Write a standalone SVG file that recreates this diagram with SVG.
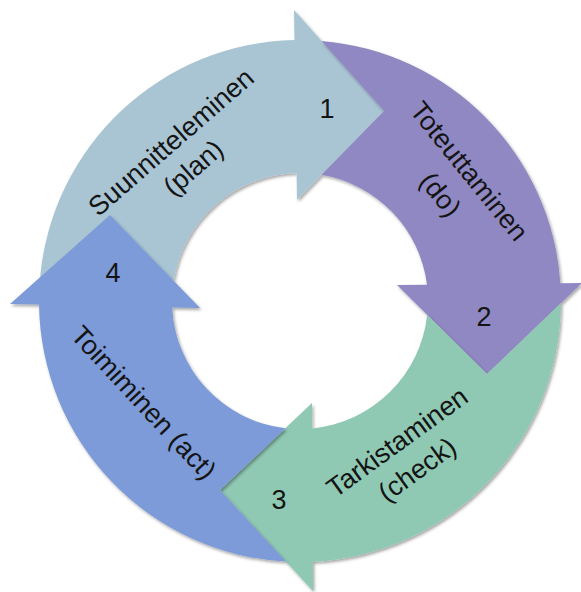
<svg xmlns="http://www.w3.org/2000/svg" width="581" height="592" viewBox="0 0 581 592">
  <style>
    .lbl { font-family: "Liberation Sans", Arial, sans-serif; font-size: 27px; fill: #141414; text-anchor: middle; }
    .arrow { filter: url(#shadow); }
    .plan { fill: #A9C5D4; }
    .do { fill: #8F88C2; }
    .check { fill: #8FC9B3; }
    .act { fill: #7B9BD8; }
  </style>
  <defs>
    <filter id="shadow" x="-10%" y="-10%" width="120%" height="120%">
      <feDropShadow dx="1.5" dy="2" stdDeviation="1.8" flood-color="#000" flood-opacity="0.35"/>
    </filter>
  </defs>
  <rect width="581" height="592" fill="#ffffff"/>

  <g id="node-plan">
    <path class="arrow plan" d="M40.1,277.2 A261,261 0 0 1 294.5,40 L294,10 L384,111 L297,200 L296.6,173 A128,128 0 0 0 173.6,280.7 L110,215 Z"/>
    <text class="lbl" transform="translate(177,149) rotate(-41)"><tspan x="0" y="0">Suunnitteleminen</tspan><tspan x="0" y="34">(plan)</tspan></text>
    <text class="lbl" x="327" y="118">1</text>
  </g>

  <g id="node-do">
    <path class="arrow do" d="M321.5,40.9 A261,261 0 0 1 560.4,283.2 L582,283 L487,374 L397,285 L427,284.7 A128,128 0 0 0 321.6,174.8 L384,111 Z"/>
    <text class="lbl" transform="translate(462,177) rotate(51)"><tspan x="0" y="0">Toteuttaminen</tspan><tspan x="0" y="37">(do)</tspan></text>
    <text class="lbl" x="484" y="326">2</text>
  </g>

  <g id="node-check">
    <path class="arrow check" d="M561,303.1 A261,261 0 0 1 312.8,561.7 L313,591 L220,490 L312,403 L312.1,428.4 A128,128 0 0 0 427.2,314.9 L487,374 Z"/>
    <text class="lbl" transform="translate(402.6,449.6) rotate(-36)"><tspan x="0" y="0">Tarkistaminen</tspan><tspan x="0" y="34">(check)</tspan></text>
    <text class="lbl" x="279" y="509">3</text>
  </g>

  <g id="node-act">
    <path class="arrow act" d="M286,561.6 A261,261 0 0 1 39,304.6 L10,304 L110,215 L200,308 L172.1,307.4 A128,128 0 0 0 285.4,428.2 L220,490 Z"/>
    <text class="lbl" transform="translate(137,409) rotate(47)">Toimiminen (act)</text>
    <text class="lbl" x="113" y="282">4</text>
  </g>

  <g id="connectors"></g>
</svg>
